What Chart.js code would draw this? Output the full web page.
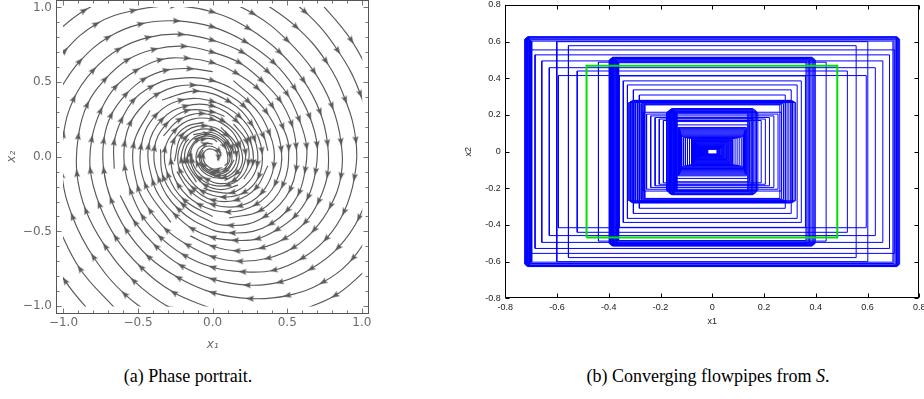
<!DOCTYPE html>
<html>
<head>
<meta charset="utf-8">
<script src="https://cdn.jsdelivr.net/npm/chart.js@4"></script>
<style>
  body { margin: 0; width: 924px; height: 399px; background: #fff; position: relative; overflow: hidden; }
  #phase { position: absolute; left: 0; top: 0; }
  #pipes { position: absolute; left: 455px; top: 0; }
  .cap { position: absolute; top: 366px; line-height: 20px; font-family: 'Liberation Serif', serif; font-size: 18px; color: #000; white-space: nowrap; transform: translateX(-50%); }
</style>
</head>
<body>
<canvas id="phase" width="400" height="360"></canvas>
<canvas id="pipes" width="469" height="340"></canvas>
<div class="cap" style="left:188px">(a) Phase portrait.</div>
<div class="cap" style="left:708px">(b) Converging flowpipes from <i>S</i>.</div>
<script>
// ---- (a) phase portrait: streamlines, [x1, x2] pairs ----
const streamlines = [
  [[1.04,-0.75],[0.82,-0.93],[0.56,-1.04]],
  [[0.69,1.07],[0.93,0.78],[1.10,0.46]],
  [[1.09,-0.45],[0.94,-0.68],[0.74,-0.84],[0.50,-0.93],[0.25,-0.95],[0,-0.91],[-0.23,-0.81],[-0.43,-0.67],[-0.58,-0.49],[-0.68,-0.29],[-0.73,-0.09],[-0.73,0.11],[-0.68,0.28],[-0.58,0.42],[-0.46,0.52],[-0.31,0.58],[-0.15,0.59],[0,0.57]],
  [[0.33,1.18],[0.62,0.97],[0.84,0.71],[0.99,0.42],[1.06,0.12],[1.06,-0.16],[0.98,-0.41],[0.84,-0.61],[0.66,-0.75],[0.45,-0.84],[0.23,-0.86],[0,-0.82],[-0.21,-0.73],[-0.38,-0.60],[-0.52,-0.44],[-0.62,-0.26]],
  [[0.30,1.06],[0.56,0.87],[0.76,0.64],[0.89,0.38],[0.96,0.11],[0.95,-0.14],[0.88,-0.37],[0.76,-0.55],[0.60,-0.68],[0.41,-0.76],[0.20,-0.77],[0,-0.74],[-0.19,-0.66],[-0.35,-0.54],[-0.47,-0.40],[-0.55,-0.23],[-0.59,-0.07],[-0.59,0.09],[-0.55,0.23],[-0.47,0.34],[-0.37,0.42],[-0.25,0.47],[-0.13,0.48],[0,0.46],[0.21,0.34],[0.34,0.14],[0.37,0.04]],
  [[-1.10,0.79],[-0.86,0.98],[-0.59,1.09],[-0.29,1.12],[0,1.07],[0.27,0.96],[0.50,0.78],[0.68,0.57],[0.80,0.34],[0.86,0.10],[0.86,-0.13],[0.79,-0.33],[0.68,-0.49],[0.54,-0.61],[0.37,-0.68],[0.18,-0.70],[0,-0.67],[-0.17,-0.59],[-0.31,-0.49],[-0.42,-0.36],[-0.50,-0.21],[-0.53,0.08],[-0.42,0.31]],
  [[-0.73,-1.14],[-0.99,-0.83],[-1.16,-0.49]],
  [[-1.15,0.48],[-0.99,0.71],[-0.78,0.89],[-0.53,0.98],[-0.26,1.01],[0,0.97],[0.24,0.86],[0.45,0.70],[0.61,0.51],[0.72,0.30],[0.77,0.09],[0.77,-0.12],[0.71,-0.30],[0.62,-0.44],[0.48,-0.55],[0.33,-0.61],[0.16,-0.63],[0,-0.60],[-0.15,-0.53]],
  [[-0.65,-1.02],[-0.89,-0.75],[-1.05,-0.44]],
  [[-1.04,0.43],[-0.89,0.64],[-0.70,0.80],[-0.48,0.89],[-0.24,0.91],[0,0.87],[0.22,0.77],[0.41,0.63],[0.55,0.46],[0.65,0.27],[0.70,0.08],[0.69,-0.10],[0.64,-0.27],[0.55,-0.40],[0.43,-0.49],[0.30,-0.55],[0.15,-0.56],[0,-0.54],[-0.14,-0.48],[-0.25,-0.39],[-0.34,-0.29],[-0.40,-0.17],[-0.43,0.07],[-0.34,0.25],[-0.18,0.34],[0,0.34],[0.16,0.24],[0.25,0.11],[0.27,-0.04],[0.21,-0.15]],
  [[-0.32,-1.12],[-0.59,-0.92],[-0.80,-0.67],[-0.94,-0.40],[-1.01,-0.12],[-1.00,0.15],[-0.93,0.39],[-0.80,0.58],[-0.63,0.72],[-0.43,0.80],[-0.21,0.82],[0,0.78],[0.20,0.70],[0.37,0.57],[0.50,0.42],[0.58,0.25],[0.63,0.07],[0.62,-0.09],[0.58,-0.24],[0.50,-0.36],[0.39,-0.45],[0.27,-0.50],[0.13,-0.51],[0,-0.49],[-0.23,-0.35],[-0.36,-0.15],[-0.39,0.06],[-0.31,0.22],[-0.17,0.31],[0,0.30],[0.08,0.27]],
  [[0,-1.14],[-0.29,-1.01],[-0.53,-0.83],[-0.72,-0.60],[-0.85,-0.36],[-0.91,-0.11],[-0.90,0.14],[-0.84,0.35],[-0.72,0.52],[-0.57,0.65],[-0.39,0.72],[-0.19,0.74],[0,0.70],[0.18,0.63],[0.33,0.51],[0.45,0.38],[0.53,0.22],[0.56,0.07],[0.56,-0.08],[0.52,-0.22],[0.45,-0.32],[0.35,-0.40],[0.24,-0.45],[0.12,-0.46],[0,-0.44],[-0.20,-0.32],[-0.33,-0.14],[-0.35,0.05]],
  [[0,-1.02],[-0.26,-0.91],[-0.48,-0.74],[-0.65,-0.54],[-0.76,-0.32],[-0.82,-0.09],[-0.81,0.12],[-0.75,0.31],[-0.65,0.47],[-0.51,0.58],[-0.35,0.65],[-0.17,0.66],[0,0.63],[0.16,0.56],[0.30,0.46],[0.40,0.34],[0.47,0.20],[0.51,0.06],[0.47,-0.19],[0.32,-0.36],[0.11,-0.41]],
  [[0.14,0.51],[0.36,0.30],[0.46,0.05],[0.42,-0.18],[0.29,-0.32],[0.10,-0.37],[-0.09,-0.32],[-0.23,-0.19],[-0.28,-0.03],[-0.26,0.11],[-0.18,0.20],[-0.06,0.23]],
  [[-0.66,-0.08],[-0.66,0.10],[-0.61,0.25],[-0.53,0.38],[-0.41,0.47],[-0.28,0.52],[0,0.51],[0.24,0.37],[0.38,0.16],[0.41,-0.06],[0.33,-0.24],[0.18,-0.33],[0,-0.32],[-0.15,-0.23],[-0.24,-0.10]],
  [[0.37,-0.06],[0.29,-0.21],[0.16,-0.29],[0,-0.29],[-0.13,-0.21],[-0.22,-0.09],[-0.23,0.03],[-0.18,0.13],[-0.10,0.18],[0,0.18],[0.08,0.13],[0.13,0.06],[0.14,0.02]],
  [[-0.34,0.38],[-0.11,0.44],[0.11,0.37],[0.26,0.22],[0.33,0.04],[0.31,-0.13],[0.21,-0.24],[0.07,-0.27],[-0.07,-0.23],[-0.16,-0.14],[-0.21,-0.02],[-0.19,0.08],[-0.16,0.12]],
  [[-0.28,-0.44],[-0.45,-0.19],[-0.48,0.07],[-0.38,0.28],[-0.21,0.38],[0,0.37],[0.18,0.27],[0.28,0.12],[0.30,-0.05],[0.24,-0.17],[0.13,-0.24],[0,-0.23],[-0.06,-0.21]],
  [[0.17,-0.19],[0.06,-0.22],[-0.05,-0.19],[-0.13,-0.11],[-0.17,-0.02],[-0.15,0.06],[-0.10,0.12],[-0.04,0.14],[0.03,0.12],[0.08,0.07],[0.10,0.01],[0.10,-0.04],[0.08,-0.06]],
  [[0.14,0.22],[0.23,0.10],[0.24,-0.04],[0.19,-0.14],[0.10,-0.19],[0,-0.19],[-0.09,-0.14],[-0.14,-0.06],[-0.15,0.02],[-0.12,0.09],[-0.06,0.12],[0,0.12],[0.03,0.10]],
  [[-0.33,0.14],[-0.22,0.25],[-0.07,0.29],[0.07,0.24],[0.17,0.15],[0.22,0.03],[0.20,-0.08],[0.14,-0.16],[0.05,-0.18],[-0.04,-0.15],[-0.11,-0.09],[-0.14,-0.02],[-0.14,0.02]],
  [[0,-0.40],[-0.19,-0.29],[-0.30,-0.12],[-0.32,0.05],[-0.25,0.18],[-0.14,0.25],[0,0.25],[0.12,0.18],[0.18,0.08],[0.20,-0.03],[0.16,-0.11],[0.08,-0.16]],
  [[0.056,0.197],[0.165,0.070],[0.164,-0.068],[0.075,-0.140],[-0.035,-0.122],[-0.103,-0.043],[-0.102,0.042],[-0.047,0.087],[0,0.085]],
  [[-0.256,-0.030],[-0.204,0.147],[-0.054,0.208],[0.093,0.145],[0.159,0.018],[0.126,-0.091],[0.034,-0.129],[-0.058,-0.090],[-0.092,-0.039]],
  [[0.143,-0.021],[0.089,-0.102],[0,-0.111],[-0.071,-0.059],[-0.089,0.013],[-0.056,0.063],[0,0.069],[0.044,0.037],[0.055,0.006]],
  [[-0.130,0.148],[0,0.161],[0.102,0.086],[0.129,-0.019],[0.081,-0.092],[0,-0.100],[-0.064,-0.053],[-0.080,0.012],[-0.064,0.046]],
  [[-0.109,-0.170],[-0.187,-0.022],[-0.149,0.107],[-0.039,0.152],[0.068,0.106],[0.116,0.013],[0.092,-0.067],[0.025,-0.094],[-0.023,-0.080]],
  [[0.065,-0.074],[0,-0.081],[-0.052,-0.043],[-0.065,0.010],[-0.041,0.046],[0,0.050],[0.032,0.027],[0.040,-0.006],[0.032,-0.023]]
];
const phaseTicks = [-1, -0.5, 0, 0.5, 1];
const phaseTickLabels = ['\u22121.0', '\u22120.5', '0.0', '0.5', '1.0'];
const phaseMinorTicks = [-1, -0.9, -0.8, -0.7, -0.6, -0.5, -0.4, -0.3, -0.2, -0.1, 0, 0.1, 0.2, 0.3, 0.4, 0.5, 0.6, 0.7, 0.8, 0.9, 1];

// ---- (b) flowpipes: boxes [-w,w] x [-h,h] ----
const pipeHalfW = [
  0.724, 0.720, 0.716, 0.712, 0.707, 0.702, 0.698,
  0.705, 0.685, 0.659, 0.630, 0.601, 0.595, 0.556, 0.522, 0.440,
  0.398, 0.394, 0.390, 0.386, 0.381, 0.376, 0.371, 0.366, 0.362,
  0.360, 0.344, 0.328, 0.305, 0.282,
  0.322, 0.316, 0.310, 0.303, 0.296, 0.289, 0.282, 0.275, 0.268, 0.261,
  0.267, 0.254, 0.238, 0.221, 0.205, 0.189,
  0.176, 0.171, 0.166, 0.161, 0.156, 0.151, 0.146, 0.141, 0.137,
  0.157, 0.144, 0.138, 0.132,
  0.128, 0.127, 0.126, 0.125, 0.124, 0.123, 0.122, 0.121, 0.120, 0.119,
  0.112, 0.104, 0.096, 0.088,
  0.080, 0.078, 0.075, 0.073, 0.070, 0.068, 0.065, 0.063, 0.060, 0.058, 0.055, 0.053, 0.050,
  0.048, 0.045, 0.043, 0.040, 0.038, 0.035, 0.033, 0.030, 0.028, 0.025, 0.023, 0.020, 0.018
];
const pipeHalfH = [
  0.614, 0.620, 0.625, 0.627, 0.621, 0.610, 0.603,
  0.555, 0.528, 0.495, 0.458, 0.600, 0.415, 0.578, 0.440, 0.488,
  0.500, 0.506, 0.511, 0.515, 0.513, 0.508, 0.501, 0.493, 0.485,
  0.413, 0.386, 0.364, 0.337, 0.309,
  0.268, 0.274, 0.278, 0.280, 0.277, 0.272, 0.267, 0.262, 0.258, 0.255,
  0.215, 0.205, 0.195, 0.186, 0.178, 0.170,
  0.212, 0.220, 0.227, 0.232, 0.235, 0.232, 0.226, 0.218, 0.210,
  0.182, 0.164, 0.146, 0.132,
  0.127, 0.122, 0.117, 0.112, 0.107, 0.102, 0.097, 0.092, 0.087, 0.082,
  0.078, 0.076, 0.074, 0.072,
  0.070, 0.067, 0.064, 0.061, 0.058, 0.055, 0.052, 0.049, 0.046, 0.043, 0.040, 0.037, 0.034,
  0.031, 0.028, 0.026, 0.024, 0.022, 0.020, 0.018, 0.017, 0.016, 0.015, 0.015, 0.014, 0.014
];
const initialSetX = [-0.486, 0.483];
const initialSetY = [-0.469, 0.469];
const pipeTicks = [-0.8, -0.6, -0.4, -0.2, 0, 0.2, 0.4, 0.6, 0.8];
const pipeTickLabels = ['-0.8', '-0.6', '-0.4', '-0.2', '0', '0.2', '0.4', '0.6', '0.8'];

const streamGrey = '#595959';
const labelGrey = '#6a6a6a';

// small arrowhead used as point style, points up before rotation
const arrowHead = document.createElement('canvas');
arrowHead.width = 10;
arrowHead.height = 10;
(function() {
  const c = arrowHead.getContext('2d');
  c.fillStyle = streamGrey;
  c.beginPath();
  c.moveTo(5, 1);
  c.lineTo(8, 9);
  c.lineTo(5, 7.6);
  c.lineTo(2, 9);
  c.closePath();
  c.fill();
})();

// frame with inward ticks on all four sides
const frameTicks = {
  id: 'frameTicks',
  afterDatasetsDraw(chart, args, opts) {
    const { ctx, chartArea: a, scales } = chart;
    const L = Math.round(a.left) + 0.5, R = Math.round(a.right) - 0.5;
    const T = Math.round(a.top) + 0.5, B = Math.round(a.bottom) - 0.5;
    ctx.save();
    ctx.strokeStyle = opts.color;
    ctx.lineWidth = 1;
    ctx.beginPath();
    const mark = (vals, len) => {
      vals.forEach(v => {
        const x = Math.round(scales.x.getPixelForValue(v)) + 0.5;
        ctx.moveTo(x, B); ctx.lineTo(x, B - len);
        ctx.moveTo(x, T); ctx.lineTo(x, T + len);
        const y = Math.round(scales.y.getPixelForValue(v)) + 0.5;
        ctx.moveTo(L, y); ctx.lineTo(L + len, y);
        ctx.moveTo(R, y); ctx.lineTo(R - len, y);
      });
    };
    mark(opts.minor, opts.minorLen);
    mark(opts.major, opts.majorLen);
    ctx.stroke();
    ctx.lineWidth = opts.frameWidth;
    ctx.strokeStyle = opts.frameColor;
    ctx.strokeRect(L, T, R - L, B - T);
    ctx.restore();
  }
};

function arrowFlags(line) {
  const flags = line.map(() => false);
  let dist = 0;
  for (let i = 1; i < line.length - 1; i++) {
    dist += Math.hypot(line[i][0] - line[i - 1][0], line[i][1] - line[i - 1][1]);
    if (dist >= 0.14) { flags[i] = true; dist = 0; }
  }
  return flags;
}

const streamDatasets = streamlines.map(line => {
  const flags = arrowFlags(line);
  return {
    data: line.map(p => ({ x: p[0], y: p[1] })),
    showLine: true,
    borderColor: streamGrey,
    borderWidth: 1.15,
    tension: 0.4,
    pointStyle: arrowHead,
    pointRadius: flags.map(f => f ? 4 : 0),
    pointRotation: line.map((p, i) => {
      const a = line[Math.max(i - 1, 0)], b = line[Math.min(i + 1, line.length - 1)];
      return Math.atan2(b[0] - a[0], b[1] - a[1]) * 180 / Math.PI;
    }),
    clip: -7
  };
});

function fixAxis(size, horizontal) {
  return function(scale) {
    if (horizontal) scale.height = size; else scale.width = size;
    scale.paddingLeft = scale.paddingRight = scale.paddingTop = scale.paddingBottom = 0;
  };
}

new Chart(document.getElementById('phase'), {
  type: 'scatter',
  data: { datasets: streamDatasets },
  options: {
    responsive: false,
    animation: false,
    events: [],
    layout: { padding: { left: 0, top: 0, right: 30.7, bottom: 0 } },
    elements: { line: { capBezierPoints: false } },
    plugins: {
      legend: { display: false },
      tooltip: { enabled: false },
      frameTicks: { color: '#777', frameColor: '#555', frameWidth: 1, major: phaseTicks, minor: phaseMinorTicks, majorLen: 5, minorLen: 3 }
    },
    scales: {
      x: {
        type: 'linear', min: -1.05, max: 1.05,
        grid: { display: false, drawTicks: false }, border: { display: false },
        afterBuildTicks: s => { s.ticks = phaseTicks.map(v => ({ value: v })); },
        afterFit: fixAxis(46.5, true),
        ticks: { padding: 2, color: labelGrey, font: { family: 'DejaVu Sans', size: 12 }, maxRotation: 0, autoSkip: false,
                 callback: (v, i) => phaseTickLabels[i] },
        title: { display: true, text: 'x\u2081', color: labelGrey, font: { family: 'DejaVu Sans', size: 12, style: 'italic' }, padding: { top: 0, bottom: 7.8 } }
      },
      y: {
        type: 'linear', min: -1.05, max: 1.05,
        grid: { display: false, drawTicks: false }, border: { display: false },
        afterBuildTicks: s => { s.ticks = phaseTicks.map(v => ({ value: v })); },
        afterFit: fixAxis(56, false),
        ticks: { padding: 4, color: labelGrey, font: { family: 'DejaVu Sans', size: 12 }, autoSkip: false,
                 callback: (v, i) => phaseTickLabels[i] },
        title: { display: true, text: 'x\u2082', color: labelGrey, font: { family: 'DejaVu Sans', size: 12, style: 'italic' }, padding: { top: 4.8, bottom: 0 } }
      }
    }
  },
  plugins: [frameTicks]
});

// ---- (b) ----
const pipeDatasets = [{
  data: [
    { x: initialSetX[0], y: initialSetY[0] }, { x: initialSetX[1], y: initialSetY[0] },
    { x: initialSetX[1], y: initialSetY[1] }, { x: initialSetX[0], y: initialSetY[1] },
    { x: initialSetX[0], y: initialSetY[0] }
  ],
  showLine: true, borderColor: '#00e000', borderWidth: 2, pointRadius: 0
}].concat(pipeHalfW.map((w, i) => {
  const h = pipeHalfH[i];
  return {
    data: [{ x: -w, y: -h }, { x: w, y: -h }, { x: w, y: h }, { x: -w, y: h }, { x: -w, y: -h }],
    showLine: true, borderColor: '#0000ff', borderWidth: 1, pointRadius: 0
  };
}));

new Chart(document.getElementById('pipes'), {
  type: 'scatter',
  data: { datasets: pipeDatasets },
  options: {
    responsive: false,
    animation: false,
    events: [],
    layout: { padding: { left: 0, top: 5, right: 4.7, bottom: 0 } },
    plugins: {
      legend: { display: false },
      tooltip: { enabled: false },
      frameTicks: { color: '#000', frameColor: '#000', frameWidth: 1, major: pipeTicks, minor: [], majorLen: 4, minorLen: 0 }
    },
    scales: {
      x: {
        type: 'linear', min: -0.8, max: 0.8,
        grid: { display: false, drawTicks: false }, border: { display: false },
        afterBuildTicks: s => { s.ticks = pipeTicks.map(v => ({ value: v })); },
        afterFit: fixAxis(41.7, true),
        ticks: { padding: 3.6, color: '#222', font: { family: 'Liberation Sans', size: 9 }, maxRotation: 0, autoSkip: false,
                 callback: (v, i) => pipeTickLabels[i] },
        title: { display: true, text: 'x1', color: '#222', font: { family: 'Liberation Sans', size: 9 }, padding: { top: 0, bottom: 12.6 } }
      },
      y: {
        type: 'linear', min: -0.8, max: 0.8,
        grid: { display: false, drawTicks: false }, border: { display: false },
        afterBuildTicks: s => { s.ticks = pipeTicks.map(v => ({ value: v })); },
        afterFit: fixAxis(50.3, false),
        ticks: { padding: 4.6, color: '#222', font: { family: 'Liberation Sans', size: 9 }, autoSkip: false,
                 callback: (v, i) => pipeTickLabels[i] },
        title: { display: true, text: 'x2', color: '#222', font: { family: 'Liberation Sans', size: 9 }, padding: { top: 8.6, bottom: 0 } }
      }
    }
  },
  plugins: [frameTicks]
});
</script>
</body>
</html>
